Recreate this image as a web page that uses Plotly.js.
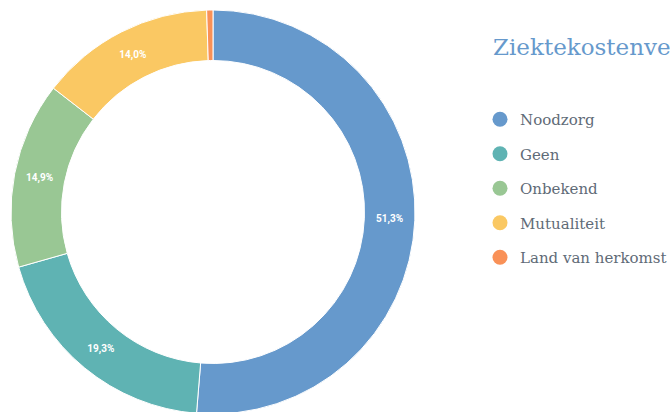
<!DOCTYPE html>
<html>
<head>
<meta charset="utf-8">
<script src="https://cdn.plot.ly/plotly-3.0.1.min.js"></script>
<style>html,body{margin:0;padding:0;background:#fff;overflow:hidden;}#chart{width:670px;height:412px;overflow:hidden;}</style>
</head>
<body>
<div id="chart"></div>
<script>
const categories = ["Noodzorg", "Geen", "Onbekend", "Mutualiteit", "Land van herkomst"];
const values = [51.3, 19.3, 14.9, 14.0, 0.5];
const colors = ["#6699cc", "#5fb3b3", "#99c794", "#fac863", "#f99157"];
const titleText = "Ziektekostenverzekering";

const serif = "'DejaVu Serif', 'Liberation Serif', serif";
const H = 416;

const pie = {
  type: "pie",
  labels: categories,
  values: values,
  sort: false,
  direction: "clockwise",
  rotation: 0,
  hole: 0.75,
  marker: { colors: colors, line: { color: "#ffffff", width: 1 } },
  texttemplate: "%{percent:.1%}",
  textposition: values.map(v => v < 2 ? "none" : "inside"),
  insidetextorientation: "horizontal",
  textfont: { family: "Roboto, 'DejaVu Sans', sans-serif", size: 10, color: "#ffffff", weight: "bold" },
  hoverinfo: "label+percent",
  showlegend: false,
  domain: { x: [11 / 670, 415 / 670], y: [0.0048, 0.976] }
};

const legendTraces = categories.map((c, i) => ({
  type: "scatter",
  mode: "markers",
  x: [null], y: [null],
  name: c,
  legendgroup: "g" + i,
  marker: { color: colors[i], size: 15, symbol: "circle" },
  showlegend: true,
  hoverinfo: "skip"
}));

const layout = {
  width: 670, height: H,
  margin: { l: 0, r: 0, t: 0, b: 0, autoexpand: false },
  paper_bgcolor: "#ffffff",
  plot_bgcolor: "#ffffff",
  separators: ",.",
  title: {
    text: titleText,
    x: 493 / 670, xanchor: "left", xref: "paper",
    y: 1 - 47 / H, yanchor: "middle", yref: "container",
    font: { family: serif, size: 23, color: "#6699cc" }
  },
  xaxis: { visible: false, domain: [0.7, 0.71] },
  yaxis: { visible: false, domain: [0.9, 0.91] },
  showlegend: true,
  legend: {
    x: 480 / 670, xanchor: "left",
    y: 1 - 103 / H, yanchor: "top",
    traceorder: "grouped",
    tracegroupgap: 12,
    font: { family: serif, size: 15, color: "#5f6b77" },
    bgcolor: "rgba(0,0,0,0)",
    itemwidth: 30
  }
};

Plotly.newPlot("chart", [pie].concat(legendTraces), layout, { displayModeBar: false, staticPlot: true });
</script>
</body>
</html>
